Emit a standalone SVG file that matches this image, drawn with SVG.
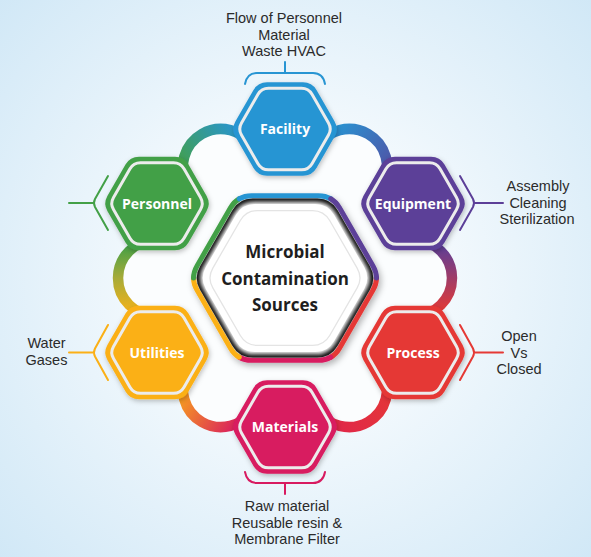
<svg xmlns="http://www.w3.org/2000/svg" width="591" height="557" viewBox="0 0 591 557">
<defs>
<style>
.lbl{font-family:"Open Sans","Liberation Sans",sans-serif;font-weight:700;font-size:14px;fill:#fff;text-anchor:middle}
.note{font-family:"Liberation Sans",Arial,sans-serif;font-weight:400;font-size:14.5px;fill:#2b2b2b;text-anchor:middle}
.ctr{font-family:"Open Sans","Liberation Sans",sans-serif;font-weight:700;font-size:17px;fill:#1e1e1e;text-anchor:middle}
.ring{fill:none;stroke:#ececec;stroke-width:3}
.br{fill:none;stroke-width:2;stroke-linecap:round;stroke-linejoin:round}
.band{fill:none;stroke-width:10.5}
.edge{fill:none;stroke-width:5;stroke-linecap:round}
</style>
<radialGradient id="bg" cx="295" cy="278" r="420" gradientUnits="userSpaceOnUse">
<stop offset="0" stop-color="#ffffff"/>
<stop offset="0.35" stop-color="#f3f9fd"/>
<stop offset="1" stop-color="#cfe7f6"/>
</radialGradient>
<path id="hexO" d="M49.5,-7.79 Q54,0 49.5,7.79 L31.5,38.98 Q27,46.77 18,46.77 L-18,46.77 Q-27,46.77 -31.5,38.98 L-49.5,7.79 Q-54,0 -49.5,-7.79 L-31.5,-38.98 Q-27,-46.77 -18,-46.77 L18,-46.77 Q27,-46.77 31.5,-38.98 Z"/>
<path id="hexI" d="M43.5,-6.06 Q47,0 43.5,6.06 L27,34.64 Q23.5,40.7 16.5,40.7 L-16.5,40.7 Q-23.5,40.7 -27,34.64 L-43.5,6.06 Q-47,0 -43.5,-6.06 L-27,-34.64 Q-23.5,-40.7 -16.5,-40.7 L16.5,-40.7 Q23.5,-40.7 27,-34.64 Z"/>
<path id="hexC" d="M88,-12.12 Q95,0 88,12.12 L54.5,70.15 Q47.5,82.27 33.5,82.27 L-33.5,82.27 Q-47.5,82.27 -54.5,70.15 L-88,12.12 Q-95,0 -88,-12.12 L-54.5,-70.15 Q-47.5,-82.27 -33.5,-82.27 L33.5,-82.27 Q47.5,-82.27 54.5,-70.15 Z"/>
<filter id="sh" x="-30%" y="-30%" width="160%" height="160%">
<feDropShadow dx="1" dy="2" stdDeviation="2.5" flood-color="#000" flood-opacity="0.25"/>
</filter>
<filter id="shC" x="-20%" y="-20%" width="140%" height="140%">
<feDropShadow dx="2" dy="3" stdDeviation="3" flood-color="#000" flood-opacity="0.3"/>
</filter>
<filter id="blur" x="-20%" y="-20%" width="140%" height="140%">
<feGaussianBlur stdDeviation="2.2"/>
</filter>
<linearGradient id="g1" gradientUnits="userSpaceOnUse" x1="330" y1="129" x2="400" y2="190"><stop offset="0" stop-color="#2895d3"/><stop offset="1" stop-color="#5c3f98"/></linearGradient>
<linearGradient id="g2" gradientUnits="userSpaceOnUse" x1="414" y1="245" x2="414" y2="312"><stop offset="0" stop-color="#5c3f98"/><stop offset="1" stop-color="#e53935"/></linearGradient>
<linearGradient id="g3" gradientUnits="userSpaceOnUse" x1="390" y1="370" x2="320" y2="410"><stop offset="0" stop-color="#e53935"/><stop offset="1" stop-color="#e0264a"/></linearGradient>
<linearGradient id="g4" gradientUnits="userSpaceOnUse" x1="250" y1="410" x2="185" y2="370"><stop offset="0" stop-color="#d81b60"/><stop offset="1" stop-color="#fbb016"/></linearGradient>
<linearGradient id="g5" gradientUnits="userSpaceOnUse" x1="156" y1="312" x2="156" y2="245"><stop offset="0" stop-color="#f2b21a"/><stop offset="0.5" stop-color="#a8ab38"/><stop offset="1" stop-color="#43a047"/></linearGradient>
<linearGradient id="g6" gradientUnits="userSpaceOnUse" x1="190" y1="185" x2="250" y2="140"><stop offset="0" stop-color="#43a047"/><stop offset="1" stop-color="#2895d3"/></linearGradient>
</defs>

<rect x="0" y="0" width="591" height="557" fill="url(#bg)"/>
<circle cx="285" cy="278" r="122" fill="#fbfdfe"/>

<g id="holes" fill="#fbfdfe">
<circle cx="349.5" cy="166.3" r="34"/>
<circle cx="414" cy="278" r="34"/>
<circle cx="349.5" cy="389.7" r="34"/>
<circle cx="220.5" cy="389.7" r="34"/>
<circle cx="156" cy="278" r="34"/>
<circle cx="220.5" cy="166.3" r="34"/>
</g>

<g id="connectors">
<path class="band" stroke="url(#g1)" d="M316.6,147.3 A38,38 0 0 1 382.4,185.3"/>
<path class="band" stroke="url(#g2)" d="M414,240 A38,38 0 0 1 414,316"/>
<path class="band" stroke="url(#g3)" d="M382.4,370.7 A38,38 0 0 1 316.6,408.7"/>
<path class="band" stroke="url(#g4)" d="M253.4,408.7 A38,38 0 0 1 187.6,370.7"/>
<path class="band" stroke="url(#g5)" d="M156,316 A38,38 0 0 1 156,240"/>
<path class="band" stroke="url(#g6)" d="M187.6,185.3 A38,38 0 0 1 253.4,147.3"/>
</g>

<g id="center" transform="translate(285,278)">
<g filter="url(#shC)">
<path class="edge" stroke="#e53935" d="M91.5,0 Q91.5,6.06 88,12.12 L54.5,70.15 Q51,76.21 45.75,79.24"/>
<path class="edge" stroke="#d81b60" d="M45.75,79.24 Q40.5,82.27 33.5,82.27 L-33.5,82.27 Q-40.5,82.27 -45.75,79.24"/>
<path class="edge" stroke="#fbb016" d="M-45.75,79.24 Q-51,76.21 -54.5,70.15 L-88,12.12 Q-91.5,6.06 -91.5,0"/>
<path class="edge" stroke="#43a047" d="M-91.5,0 Q-91.5,-6.06 -88,-12.12 L-54.5,-70.15 Q-51,-76.21 -45.75,-79.24"/>
<path class="edge" stroke="#2895d3" d="M-45.75,-79.24 Q-40.5,-82.27 -33.5,-82.27 L33.5,-82.27 Q40.5,-82.27 45.75,-79.24"/>
<path class="edge" stroke="#5c3f98" d="M45.75,-79.24 Q51,-76.21 54.5,-70.15 L88,-12.12 Q91.5,-6.06 91.5,0"/>
<use href="#hexC" transform="scale(0.965)" fill="#0b0b0b"/>
</g>
<use href="#hexC" transform="scale(0.925)" fill="#ffffff" filter="url(#blur)"/>
<use href="#hexC" transform="scale(0.9)" fill="#ffffff"/>
<use href="#hexC" transform="scale(0.82)" fill="none" stroke="#e4e4e4" stroke-width="1.6"/>
<text class="ctr" x="0" y="-20">Microbial</text>
<text class="ctr" x="0" y="7">Contamination</text>
<text class="ctr" x="0" y="33">Sources</text>
</g>

<g id="facility" transform="translate(285,129)">
<use href="#hexO" fill="#2895d3" filter="url(#sh)"/>
<use href="#hexI" class="ring" fill="#2895d3"/>
<text class="lbl" x="0" y="5">Facility</text>
</g>
<g id="equipment" transform="translate(413,203.5)">
<use href="#hexO" fill="#5c3f98" filter="url(#sh)"/>
<use href="#hexI" class="ring" fill="#5c3f98"/>
<text class="lbl" x="0" y="5">Equipment</text>
</g>
<g id="process" transform="translate(413,352.5)">
<use href="#hexO" fill="#e53935" filter="url(#sh)"/>
<use href="#hexI" class="ring" fill="#e53935"/>
<text class="lbl" x="0" y="5">Process</text>
</g>
<g id="materials" transform="translate(285,427)">
<use href="#hexO" fill="#d81b60" filter="url(#sh)"/>
<use href="#hexI" class="ring" fill="#d81b60"/>
<text class="lbl" x="0" y="5">Materials</text>
</g>
<g id="utilities" transform="translate(157,352.5)">
<use href="#hexO" fill="#fbb016" filter="url(#sh)"/>
<use href="#hexI" class="ring" fill="#fbb016"/>
<text class="lbl" x="0" y="5">Utilities</text>
</g>
<g id="personnel" transform="translate(157,203.5)">
<use href="#hexO" fill="#43a047" filter="url(#sh)"/>
<use href="#hexI" class="ring" fill="#43a047"/>
<text class="lbl" x="0" y="5">Personnel</text>
</g>

<g id="facility-note">
<path class="br" stroke="#2895d3" d="M245,84 Q247,73 257,73 L313,73 Q323,73 325,84 M285,73 L285,62"/>
<text class="note" x="284" y="23">Flow of Personnel</text>
<text class="note" x="284" y="39.5">Material</text>
<text class="note" x="284" y="56">Waste HVAC</text>
</g>
<g id="equipment-note">
<path class="br" stroke="#5c3f98" d="M460,176 L473,199 Q475,203 473,207 L460,230 M475,203 L503,203"/>
<text class="note" x="538" y="191">Assembly</text>
<text class="note" x="538" y="207.5">Cleaning</text>
<text class="note" x="537" y="224">Sterilization</text>
</g>
<g id="process-note">
<path class="br" stroke="#e53935" d="M460,325 L473,348.5 Q475,352.5 473,356.5 L460,380 M475,352.5 L503,352.5"/>
<text class="note" x="519" y="341">Open</text>
<text class="note" x="519" y="357.5">Vs</text>
<text class="note" x="519" y="374">Closed</text>
</g>
<g id="personnel-note">
<path class="br" stroke="#43a047" d="M108,176 L95,199 Q93,203 95,207 L108,230 M93,203 L69,203"/>
</g>
<g id="utilities-note">
<path class="br" stroke="#fbb016" d="M108,325 L95,348.5 Q93,352.5 95,356.5 L108,380 M93,352.5 L69,352.5"/>
<text class="note" x="46.5" y="348">Water</text>
<text class="note" x="46.5" y="365">Gases</text>
</g>
<g id="materials-note">
<path class="br" stroke="#d81b60" d="M245,472 Q247,483 257,483 L313,483 Q323,483 325,472 M285,483 L285,494"/>
<text class="note" x="287" y="511">Raw material</text>
<text class="note" x="287" y="527.5">Reusable resin &amp;</text>
<text class="note" x="287" y="544">Membrane Filter</text>
</g>
</svg>
